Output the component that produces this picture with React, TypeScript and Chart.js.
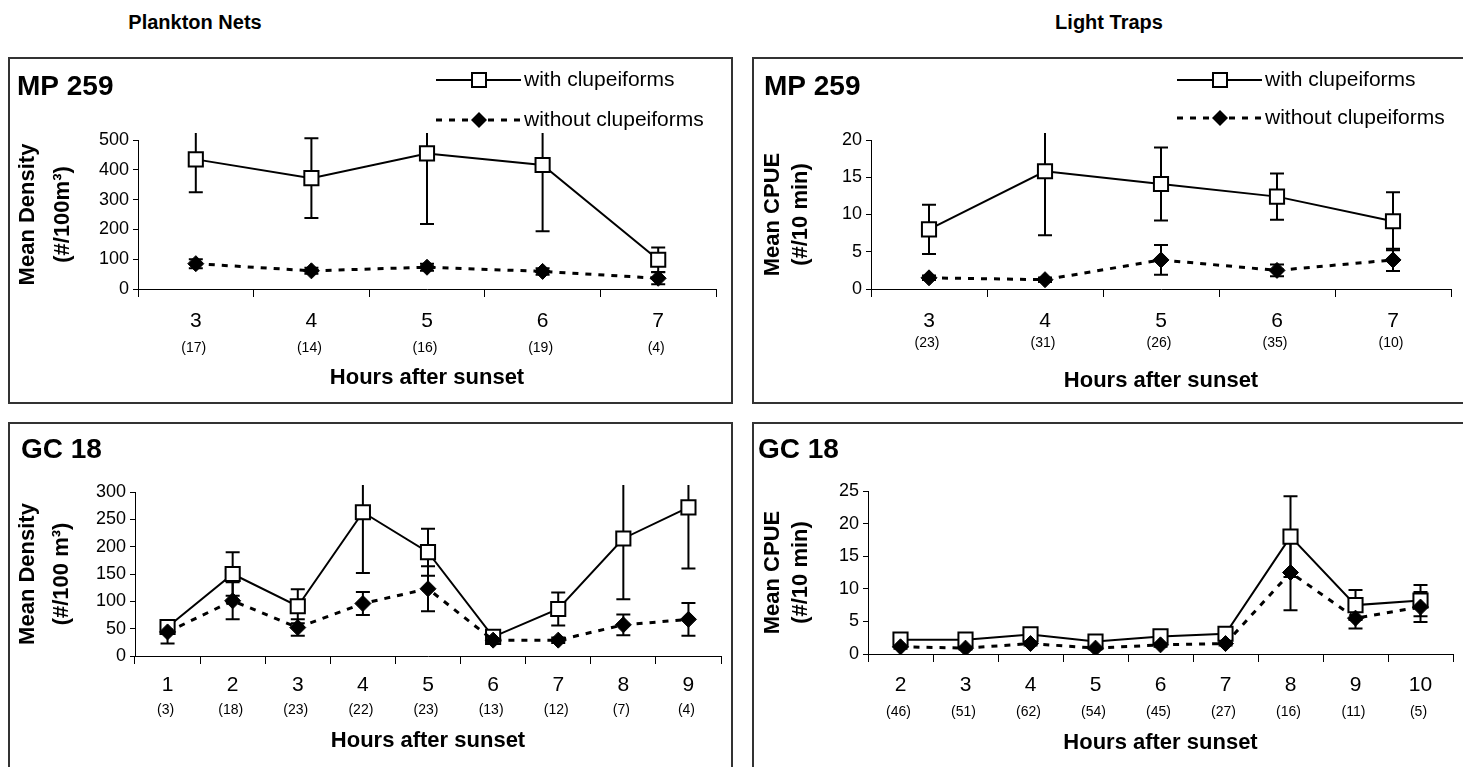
import React, { useEffect, useRef } from "react";
import { Chart, registerables } from "chart.js";

Chart.register(...registerables);

const FONT = "'Liberation Sans', Arial, Helvetica, sans-serif";

// ---------------- data ----------------
// Plankton nets, MP 259
const pnMpHours = ["3", "4", "5", "6", "7"];
const pnMpCounts = ["(17)", "(14)", "(16)", "(19)", "(4)"];
const pnMpWith = [435, 372, 455, 416, 98];
const pnMpWithSE = [110, 134, 237, 222, 41];
const pnMpWithout = [85, 61, 73, 59, 36];
const pnMpWithoutSE = [15, 10, 12, 11, 20];

// Light traps, MP 259
const ltMpHours = ["3", "4", "5", "6", "7"];
const ltMpCounts = ["(23)", "(31)", "(26)", "(35)", "(10)"];
const ltMpWith = [8.0, 15.8, 14.1, 12.4, 9.1];
const ltMpWithSE = [3.3, 8.6, 4.9, 3.1, 3.9];
const ltMpWithout = [1.5, 1.25, 3.9, 2.5, 3.9];
const ltMpWithoutSE = [0.3, 0.3, 2.0, 0.8, 1.5];

// Plankton nets, GC 18
const pnGcHours = ["1", "2", "3", "4", "5", "6", "7", "8", "9"];
const pnGcCounts = ["(3)", "(18)", "(23)", "(22)", "(23)", "(13)", "(12)", "(7)", "(4)"];
const pnGcWith = [53, 150, 91, 263, 190, 35, 86, 215, 272];
const pnGcWithSE = [8, 40, 31, 111, 43, 5, 30, 111, 112];
const pnGcWithout = [44, 101, 52, 96, 123, 29, 29, 57, 67];
const pnGcWithoutSE = [21, 34, 15, 21, 41, 4, 5, 19, 30];

// Light traps, GC 18
const ltGcHours = ["2", "3", "4", "5", "6", "7", "8", "9", "10"];
const ltGcCounts = ["(46)", "(51)", "(62)", "(54)", "(45)", "(27)", "(16)", "(11)", "(5)"];
const ltGcWith = [2.2, 2.2, 3.0, 1.9, 2.7, 3.1, 18.0, 7.5, 8.2];
const ltGcWithSE = [0.3, 0.3, 0.4, 0.3, 0.3, 0.4, 6.2, 2.3, 2.4];
const ltGcWithout = [1.1, 0.9, 1.6, 0.9, 1.4, 1.6, 12.5, 5.5, 7.2];
const ltGcWithoutSE = [0.3, 0.2, 0.3, 0.2, 0.3, 0.3, 5.8, 1.6, 2.3];

const seriesLabels = ["with clupeiforms", "without clupeiforms"];
const xAxisTitle = "Hours after sunset";

// ---------------- panel layouts ----------------
const panels = [
  {
    key: "tl",
    box: { x: 8, y: 57, w: 725, h: 347 },
    area: { l: 138, t: 140, r: 716, b: 289 },
    title: "MP 259",
    titlePos: { x: 9, y: 38 },
    hours: pnMpHours, counts: pnMpCounts,
    withVals: pnMpWith, withSE: pnMpWithSE,
    withoutVals: pnMpWithout, withoutSE: pnMpWithoutSE,
    yMax: 500, yStep: 100,
    yTitle: ["Mean Density", "(#/100m³)"], yTitleX: [28, 63],
    xTickPad: 12, countsDy: 59, xTitleDy: 89,
    legend: { x: 436, y1: 80, y2: 120 },
  },
  {
    key: "tr",
    box: { x: 752, y: 57, w: 725, h: 347 },
    area: { l: 871, t: 140, r: 1451, b: 289 },
    title: "MP 259",
    titlePos: { x: 12, y: 38 },
    hours: ltMpHours, counts: ltMpCounts,
    withVals: ltMpWith, withSE: ltMpWithSE,
    withoutVals: ltMpWithout, withoutSE: ltMpWithoutSE,
    yMax: 20, yStep: 5,
    yTitle: ["Mean CPUE", "(#/10 min)"], yTitleX: [773, 801],
    xTickPad: 12, countsDy: 54, xTitleDy: 92,
    legend: { x: 1177, y1: 80, y2: 118 },
  },
  {
    key: "bl",
    box: { x: 8, y: 422, w: 725, h: 360 },
    area: { l: 135, t: 492, r: 722, b: 656 },
    title: "GC 18",
    titlePos: { x: 13, y: 36 },
    hours: pnGcHours, counts: pnGcCounts,
    withVals: pnGcWith, withSE: pnGcWithSE,
    withoutVals: pnGcWithout, withoutSE: pnGcWithoutSE,
    yMax: 300, yStep: 50,
    yTitle: ["Mean Density", "(#/100 m³)"], yTitleX: [28, 62],
    xTickPad: 9, countsDy: 54, xTitleDy: 85,
    legend: null,
  },
  {
    key: "br",
    box: { x: 752, y: 422, w: 725, h: 360 },
    area: { l: 868, t: 491, r: 1453, b: 654 },
    title: "GC 18",
    titlePos: { x: 6, y: 36 },
    hours: ltGcHours, counts: ltGcCounts,
    withVals: ltGcWith, withSE: ltGcWithSE,
    withoutVals: ltGcWithout, withoutSE: ltGcWithoutSE,
    yMax: 25, yStep: 5,
    yTitle: ["Mean CPUE", "(#/10 min)"], yTitleX: [773, 801],
    xTickPad: 11, countsDy: 58, xTitleDy: 89,
    legend: null,
  },
];

function drawSquare(ctx: CanvasRenderingContext2D, x: number, y: number) {
  ctx.save();
  ctx.fillStyle = "#fff";
  ctx.strokeStyle = "#000";
  ctx.lineWidth = 2;
  ctx.fillRect(x - 7, y - 7, 14, 14);
  ctx.strokeRect(x - 7, y - 7, 14, 14);
  ctx.restore();
}

function drawDiamond(ctx: CanvasRenderingContext2D, x: number, y: number) {
  ctx.save();
  ctx.fillStyle = "#000";
  ctx.beginPath();
  ctx.moveTo(x - 8, y);
  ctx.lineTo(x, y - 8);
  ctx.lineTo(x + 8, y);
  ctx.lineTo(x, y + 8);
  ctx.closePath();
  ctx.fill();
  ctx.restore();
}

function Panel({ cfg }: { cfg: any }) {
  const ref = useRef<HTMLCanvasElement>(null);
  const { box, area } = cfg;

  useEffect(() => {
    const canvas = ref.current;
    if (!canvas) return;

    const decor = {
      id: "decor",
      beforeDatasetsDraw(chart: any) {
        const ctx = chart.ctx;
        const ca = chart.chartArea;
        ctx.save();
        ctx.beginPath();
        ctx.rect(ca.left - 20, ca.top - 7, ca.right - ca.left + 40, ca.bottom - ca.top + 30);
        ctx.clip();
        ctx.strokeStyle = "#000";
        ctx.lineWidth = 2;
        chart.data.datasets.forEach((ds: any, di: number) => {
          const meta = chart.getDatasetMeta(di);
          ds.data.forEach((v: number, i: number) => {
            const e = ds.errors[i];
            const x = meta.data[i].x;
            const yHi = chart.scales.y.getPixelForValue(v + e);
            const yLo = chart.scales.y.getPixelForValue(Math.max(0, v - e));
            ctx.beginPath();
            ctx.moveTo(x, yHi);
            ctx.lineTo(x, yLo);
            ctx.moveTo(x - 7, yHi);
            ctx.lineTo(x + 7, yHi);
            ctx.moveTo(x - 7, yLo);
            ctx.lineTo(x + 7, yLo);
            ctx.stroke();
          });
        });
        ctx.restore();
      },
      afterDraw(chart: any) {
        const ctx = chart.ctx;
        const ca = chart.chartArea;
        ctx.save();
        ctx.fillStyle = "#000";

        // panel title
        ctx.font = `bold 28px ${FONT}`;
        ctx.textAlign = "left";
        ctx.textBaseline = "alphabetic";
        ctx.fillText(cfg.title, cfg.titlePos.x, cfg.titlePos.y);

        // y-axis title (rotated, two lines)
        const yc = (ca.top + ca.bottom) / 2;
        ctx.font = `bold 22px ${FONT}`;
        cfg.yTitle.forEach((line: string, i: number) => {
          ctx.save();
          ctx.translate(cfg.yTitleX[i] - box.x, yc);
          ctx.rotate(-Math.PI / 2);
          ctx.textAlign = "center";
          ctx.textBaseline = "middle";
          ctx.fillText(line, 0, 0);
          ctx.restore();
        });

        // sample counts under the hour labels
        const xs = chart.scales.x;
        ctx.font = `14px ${FONT}`;
        ctx.textAlign = "center";
        ctx.textBaseline = "middle";
        cfg.counts.forEach((c: string, i: number) => {
          ctx.fillText(c, xs.getPixelForValue(i) - 2, ca.bottom + cfg.countsDy);
        });

        // x-axis title
        ctx.font = `bold 22px ${FONT}`;
        ctx.fillText(xAxisTitle, (ca.left + ca.right) / 2, ca.bottom + cfg.xTitleDy);

        // legend
        if (cfg.legend) {
          const lx = cfg.legend.x - box.x;
          const l1 = cfg.legend.y1 - box.y;
          const l2 = cfg.legend.y2 - box.y;
          ctx.strokeStyle = "#000";
          ctx.lineWidth = 2;
          ctx.beginPath();
          ctx.moveTo(lx, l1);
          ctx.lineTo(lx + 85, l1);
          ctx.stroke();
          drawSquare(ctx, lx + 43, l1);
          ctx.save();
          ctx.lineWidth = 3;
          ctx.setLineDash([6, 7]);
          ctx.beginPath();
          ctx.moveTo(lx, l2);
          ctx.lineTo(lx + 85, l2);
          ctx.stroke();
          ctx.restore();
          drawDiamond(ctx, lx + 43, l2);
          ctx.font = `21px ${FONT}`;
          ctx.textAlign = "left";
          ctx.textBaseline = "middle";
          ctx.fillText(seriesLabels[0], lx + 88, l1);
          ctx.fillText(seriesLabels[1], lx + 88, l2);
        }
        ctx.restore();
      },
    };

    const chart = new Chart(canvas, {
      type: "line",
      data: {
        labels: cfg.hours,
        datasets: [
          {
            label: seriesLabels[1],
            data: cfg.withoutVals,
            errors: cfg.withoutSE,
            borderColor: "#000",
            backgroundColor: "#000",
            borderWidth: 3,
            borderDash: [6, 7],
            pointStyle: "rectRot",
            pointRadius: 8,
            pointHoverRadius: 8,
            pointBorderWidth: 1,
            pointBackgroundColor: "#000",
            pointBorderColor: "#000",
            tension: 0,
            order: 0,
          } as any,
          {
            label: seriesLabels[0],
            data: cfg.withVals,
            errors: cfg.withSE,
            borderColor: "#000",
            backgroundColor: "#fff",
            borderWidth: 2,
            pointStyle: "rect",
            pointRadius: 10,
            pointHoverRadius: 10,
            pointBorderWidth: 2,
            pointBackgroundColor: "#fff",
            pointBorderColor: "#000",
            tension: 0,
            order: 1,
          } as any,
        ],
      },
      options: {
        animation: false,
        responsive: false,
        maintainAspectRatio: false,
        devicePixelRatio: 1,
        events: [],
        layout: {
          padding: {
            left: 0,
            top: area.t - box.y,
            right: box.x + box.w - area.r,
            bottom: 0,
          },
        },
        plugins: {
          legend: { display: false },
          tooltip: { enabled: false },
          title: { display: false },
        },
        scales: {
          x: {
            type: "category",
            offset: true,
            grid: {
              display: true,
              drawOnChartArea: false,
              drawTicks: true,
              tickLength: 8,
              offset: true,
              color: "#000",
              lineWidth: 1,
            },
            border: { display: true, color: "#000", width: 1 },
            ticks: {
              color: "#000",
              font: { family: FONT, size: 21 },
              padding: cfg.xTickPad,
              maxRotation: 0,
              autoSkip: false,
            },
            afterFit: (s: any) => {
              s.height = box.y + box.h - area.b;
            },
          },
          y: {
            min: 0,
            max: cfg.yMax,
            ticks: {
              stepSize: cfg.yStep,
              color: "#000",
              font: { family: FONT, size: 18 },
              padding: 4,
            },
            grid: {
              display: true,
              drawOnChartArea: false,
              drawTicks: true,
              tickLength: 5,
              color: "#000",
            },
            border: { display: true, color: "#000", width: 1 },
            afterFit: (s: any) => {
              s.width = area.l - box.x;
            },
          },
        },
      } as any,
      plugins: [decor],
    });
    return () => chart.destroy();
  }, [cfg]);

  return (
    <>
      <div
        style={{
          position: "absolute",
          left: box.x,
          top: box.y,
          width: box.w,
          height: box.h,
          border: "2px solid #333",
          boxSizing: "border-box",
        }}
      />
      <canvas
        ref={ref}
        width={box.w}
        height={box.h}
        style={{ position: "absolute", left: box.x, top: box.y, width: box.w, height: box.h }}
      />
    </>
  );
}

export default function App() {
  const header: React.CSSProperties = {
    position: "absolute",
    top: 22,
    transform: "translate(-50%, -50%)",
    fontFamily: FONT,
    fontWeight: "bold",
    fontSize: 20,
    whiteSpace: "nowrap",
    color: "#000",
  };
  return (
    <div
      style={{
        position: "absolute",
        left: 0,
        top: 0,
        width: 1463,
        height: 767,
        overflow: "hidden",
        background: "#fff",
      }}
    >
      <div style={{ ...header, left: 195 }}>Plankton Nets</div>
      <div style={{ ...header, left: 1109 }}>Light Traps</div>
      {panels.map((p) => (
        <Panel key={p.key} cfg={p} />
      ))}
    </div>
  );
}
